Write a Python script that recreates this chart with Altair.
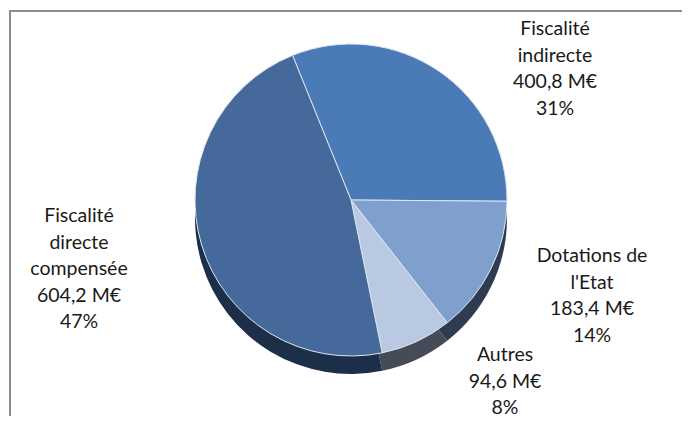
import math
import altair as alt
import pandas as pd

# ---- data ----
categories = ["Fiscalité indirecte", "Dotations de l'Etat", "Autres", "Fiscalité directe compensée"]
label_names = ["Fiscalité\nindirecte", "Dotations de\nl'Etat", "Autres", "Fiscalité\ndirecte\ncompensée"]
values = [400.8, 183.4, 94.6, 604.2]          # M€
percents = [31, 14, 8, 47]                    # %
slice_order = [0, 1, 2, 3]

# ---- styling / layout (kept separate from the data) ----
top_colors = ["#4a7bb7", "#7f9fcc", "#b9c9e2", "#45699b"]
side_colors = ["#2c4a72", "#2f3b50", "#464c57", "#1d2e49"]
label_x = [547, 584, 497, 71]     # label centres (first line), plot-area pixels
label_y = [21, 248, 347, 208]

W, H = 674, 408
CX, CY, R, DEPTH = 343, 192, 156, 18
start = math.radians(-22)

def fmt(v):
    return f"{v:.1f}".replace(".", ",") + " M€"

df = pd.DataFrame({
    "cat": categories,
    "value": values,
    "ord": slice_order,
    "label": [f"{n}\n{fmt(v)}\n{p}%" for n, v, p in zip(label_names, values, percents)],
    "lx": label_x,
    "ly": label_y,
})

theta = alt.Theta("value:Q", stack=True,
                  scale=alt.Scale(range=[start, start + 2 * math.pi]))

side = alt.Chart(df).mark_arc(outerRadius=R).encode(
    theta=theta,
    order=alt.Order("ord:Q"),
    color=alt.Color("cat:N", scale=alt.Scale(domain=categories, range=side_colors), legend=None),
    x=alt.value(CX), y=alt.value(CY + DEPTH),
)

top = alt.Chart(df).mark_arc(outerRadius=R, stroke="#dfe6f0", strokeWidth=1).encode(
    theta=theta,
    order=alt.Order("ord:Q"),
    color=alt.Color("cat:N", scale=alt.Scale(domain=categories, range=top_colors), legend=None),
    x=alt.value(CX), y=alt.value(CY),
)

labels = alt.Chart(df).mark_text(
    font="Lato", fontSize=19.5, lineBreak="\n", lineHeight=26.5,
    align="center", baseline="middle", color="#1a1a1a",
).encode(
    x=alt.X("lx:Q", scale=None, axis=None),
    y=alt.Y("ly:Q", scale=None, axis=None),
    text="label:N",
)

frame_top = alt.Chart(df).mark_rule(color="#8c8c8c", strokeWidth=2).encode(
    x=alt.value(1), x2=alt.value(W), y=alt.value(3)
)
frame_left = alt.Chart(df).mark_rule(color="#8c8c8c", strokeWidth=2).encode(
    x=alt.value(2), y=alt.value(2), y2=alt.value(H)
)

chart = alt.layer(side, top, labels, frame_top, frame_left).resolve_scale(
    color="independent"
).properties(
    width=W, height=H,
    autosize=alt.AutoSizeParams(type="fit", contains="padding"),
    padding=0,
    background="white",
).configure_view(stroke=None)

chart.save("out.html", embed_options={"renderer": "svg", "actions": False})
